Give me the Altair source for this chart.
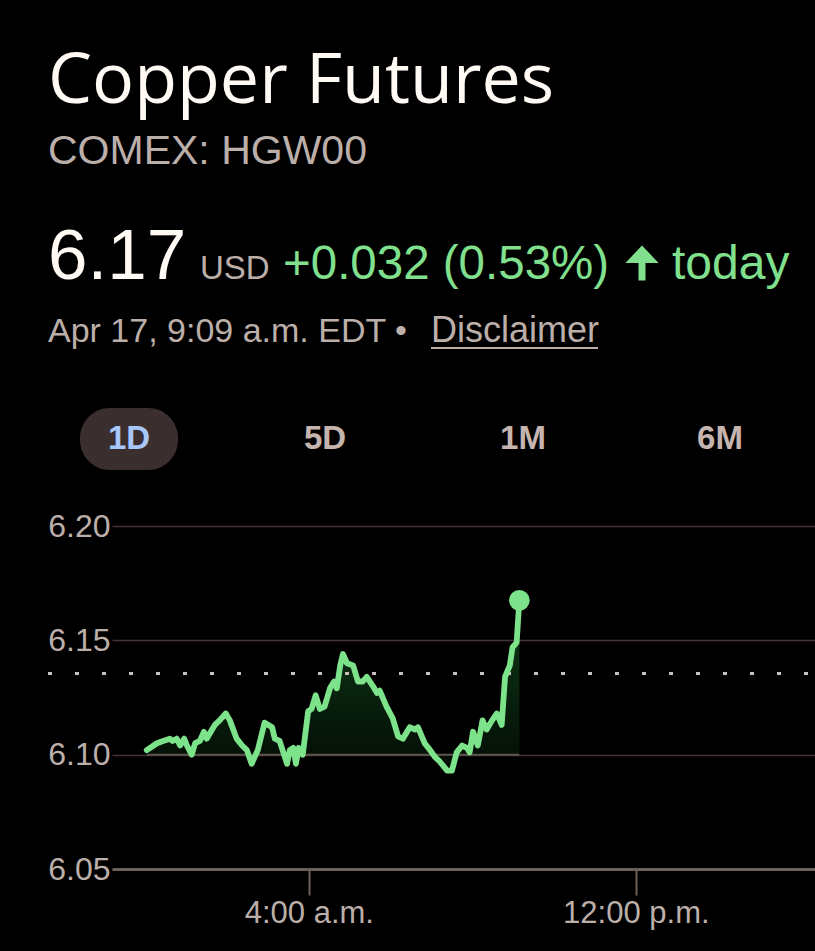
import altair as alt
import pandas as pd

# Intraday COMEX copper quotes for Apr 17 (local exchange time, USD per lb)
times = [
    "00:02", "00:17", "00:26", "00:36", "00:40", "00:46", "00:51", "00:57", "01:01", "01:08",
    "01:13", "01:20", "01:26", "01:30", "01:38", "01:42", "01:49", "01:58", "02:04", "02:14",
    "02:22", "02:29", "02:36", "02:45", "02:55", "03:06", "03:10", "03:17", "03:28", "03:32",
    "03:37", "03:41", "03:45", "03:51", "03:59", "04:04", "04:10", "04:16", "04:23", "04:31",
    "04:37", "04:41", "04:46", "04:50", "04:56", "05:05", "05:12", "05:19", "05:25", "05:34",
    "05:40", "05:44", "05:54", "06:03", "06:11", "06:18", "06:28", "06:36", "06:40", "06:50",
    "06:58", "07:05", "07:12", "07:23", "07:30", "07:37", "07:45", "07:52", "07:56", "08:01",
    "08:08", "08:15", "08:21", "08:29", "08:36", "08:43", "08:48", "08:55", "08:59", "09:05",
    "09:09",
]
prices = [
    6.102, 6.105, 6.106, 6.107, 6.106, 6.107, 6.104, 6.107, 6.104, 6.100,
    6.105, 6.106, 6.110, 6.107, 6.111, 6.113, 6.115, 6.118, 6.115, 6.107,
    6.104, 6.102, 6.096, 6.102, 6.114, 6.112, 6.107, 6.106, 6.096, 6.102,
    6.103, 6.096, 6.103, 6.100, 6.119, 6.120, 6.126, 6.120, 6.121, 6.129,
    6.132, 6.129, 6.139, 6.144, 6.140, 6.139, 6.132, 6.132, 6.134, 6.130,
    6.127, 6.128, 6.121, 6.116, 6.108, 6.107, 6.112, 6.111, 6.112, 6.105,
    6.102, 6.099, 6.097, 6.093, 6.093, 6.101, 6.104, 6.103, 6.101, 6.110,
    6.104, 6.115, 6.111, 6.115, 6.118, 6.113, 6.134, 6.139, 6.147, 6.149,
    6.1675,
]
prev_close = 6.1355
y_ticks = [6.05, 6.10, 6.15, 6.20]
tab_labels = ["1D", "5D", "1M", "6M"]

DAY = "2026-04-17 "
df = pd.DataFrame({"t": pd.to_datetime([DAY + s for s in times]), "price": prices})
last = df.tail(1)

BG = "#000000"
GREEN = "#7de38a"
GREEN_TEXT = "#80e08d"
GRAY = "#bcafaa"
WHITE = "#fffaf4"
GRID = "#43353a"
AXIS = "#6d5f59"
FONT = "Liberation Sans"
TITLE_FONT = "Open Sans"

# plot area origin inside the page
LEFT, TOP = 112, 526
W, H = 815 - LEFT, 869 - TOP

x_enc = alt.X(
    "t:T",
    scale=alt.Scale(domain=[
        alt.DateTime(year=2026, month=4, date=16, hours=23, minutes=11),
        alt.DateTime(year=2026, month=4, date=17, hours=16, minutes=23),
    ]),
    axis=alt.Axis(
        values=[
            alt.DateTime(year=2026, month=4, date=17, hours=4),
            alt.DateTime(year=2026, month=4, date=17, hours=12),
        ],
        labelExpr="timeFormat(datum.value, '%-I:%M') + ' ' + (hours(datum.value) < 12 ? 'a.m.' : 'p.m.')",
        title=None, grid=False,
        domainColor=AXIS, domainWidth=3,
        tickColor=AXIS, tickWidth=2, tickSize=26,
        labelFontSize=31, labelColor=GRAY, labelPadding=3, labelFont=FONT,
    ),
)
y_enc = alt.Y(
    "price:Q",
    scale=alt.Scale(domain=[6.05, 6.20], nice=False, zero=False),
    axis=alt.Axis(
        values=y_ticks, format=".2f", title=None, domain=False, ticks=False,
        labelPadding=2, gridColor=GRID, gridWidth=1.5,
        labelFontSize=32, labelColor=GRAY, labelFont=FONT,
    ),
)

base = alt.Chart(df)

area = base.mark_area(
    interpolate="linear",
    color=alt.Gradient(
        gradient="linear",
        stops=[alt.GradientStop(color="#0f3d1a", offset=0),
               alt.GradientStop(color="#030c04", offset=1)],
        x1=0, x2=0, y1=0, y2=1,
    ),
).encode(x=x_enc, y=y_enc, y2=alt.datum(6.10))

base_rule = base.mark_rule(color="#5d544a", strokeWidth=2).encode(
    x="min(t):T", x2="max(t):T", y=alt.datum(6.10)
)

close_rule = alt.Chart(pd.DataFrame({"close": [prev_close]})).mark_rule(
    color="#c8c0ba", strokeWidth=3, strokeDash=[4, 23]
).encode(y="close:Q", x=alt.value(48 - LEFT), x2=alt.value(W))

line = base.mark_line(
    color=GREEN, strokeWidth=5.8, strokeJoin="round", strokeCap="round", interpolate="linear"
).encode(x="t:T", y="price:Q")

dot = alt.Chart(last).mark_circle(color=GREEN, size=430, opacity=1).encode(x="t:T", y="price:Q")


def label(text, x, y, size, color, weight="normal", align="left",
          baseline="alphabetic", font=FONT):
    return alt.Chart(pd.DataFrame({"s": [text]})).mark_text(
        align=align, baseline=baseline, font=font, fontSize=size,
        fontWeight=weight, color=color,
    ).encode(text="s:N", x=alt.value(x - LEFT), y=alt.value(y - TOP))


header = [
    label("Copper Futures", 48, 103, 70, WHITE, font=TITLE_FONT),
    label("COMEX: HGW00", 48, 164, 41, GRAY),
    label("6.17", 48, 279, 71, WHITE),
    label("USD", 200, 279, 33, GRAY),
    label("+0.032 (0.53%)", 283, 279, 47.5, GREEN_TEXT),
    label("today", 672, 279, 48, GREEN_TEXT),
    label("Apr 17, 9:09 a.m. EDT \u2022", 48, 342, 34, GRAY),
    label("Disclaimer", 431, 342, 36, GRAY),
]

arrow = alt.Chart(pd.DataFrame({"k": [0]})).mark_point(
    shape="M0,-1 L0.95,0 L0.2,0 L0.2,1 L-0.2,1 L-0.2,0 L-0.95,0 Z",
    filled=True, color=GREEN_TEXT, opacity=1, size=1225, strokeWidth=0,
).encode(x=alt.value(642 - LEFT), y=alt.value(263 - TOP))

underline = alt.Chart(pd.DataFrame({"k": [0]})).mark_rule(color=GRAY, strokeWidth=2).encode(
    x=alt.value(431 - LEFT), x2=alt.value(598 - LEFT), y=alt.value(348 - TOP)
)

pill = alt.Chart(pd.DataFrame({"k": [0]})).mark_rect(color="#3a2e2f", cornerRadius=30).encode(
    x=alt.value(80 - LEFT), x2=alt.value(178 - LEFT),
    y=alt.value(408 - TOP), y2=alt.value(470 - TOP),
)

tab_centers = [129, 325, 523, 720]
tabs = [
    label(lbl, cx, 439, 33, "#a8c7fa" if i == 0 else "#c6b4ae", weight="bold",
          align="center", baseline="middle")
    for i, (lbl, cx) in enumerate(zip(tab_labels, tab_centers))
]

chart = alt.layer(
    area, base_rule, close_rule, line, dot,
    *header, arrow, underline, pill, *tabs,
).properties(
    width=W, height=H,
    autosize="none",
    padding={"left": LEFT, "top": TOP, "right": 0, "bottom": 951 - 869},
    background=BG,
).configure_view(stroke=None)

chart.save("out.html", embed_options={"renderer": "svg", "actions": False})
